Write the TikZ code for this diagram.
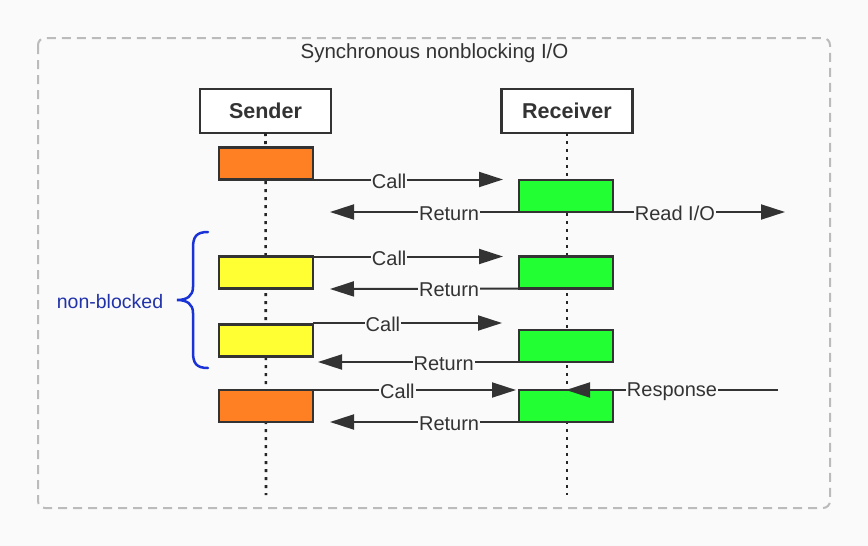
\documentclass[tikz,border=0pt]{standalone}
\usepackage{fontspec}
\setmainfont{Liberation Sans}
\usetikzlibrary{arrows.meta}
\definecolor{bgc}{HTML}{FAFAFA}
\definecolor{framec}{HTML}{BBBBBB}
\definecolor{ink}{HTML}{333333}
\definecolor{orangec}{HTML}{FF8022}
\definecolor{yellowc}{HTML}{FFFF33}
\definecolor{greenc}{HTML}{22FF33}
\definecolor{bracec}{HTML}{1A33D6}
\definecolor{bracetext}{HTML}{2233AA}
\tikzset{
  head/.style={draw=ink, line width=2.5pt, fill=white, minimum width=131pt, minimum height=44pt, inner sep=0pt, outer sep=0pt, font=\fontsize{21.5}{24}\selectfont\bfseries, text=ink},
  actbox/.style={draw=ink, line width=2.5pt, minimum width=94pt, minimum height=32pt, inner sep=0pt, outer sep=0pt},
  lifeline/.style={draw=black!85, line width=2.6pt, dash pattern=on 3pt off 5pt},
  msg/.style={draw=ink, line width=2pt, -{Triangle[length=24pt,width=15pt]}},
  lbl/.style={fill=bgc, inner sep=1pt, text=ink, font=\fontsize{20}{24}\selectfont, yshift=-1.5pt},
}
\begin{document}
\begin{tikzpicture}[x=1pt,y=-1pt]
\useasboundingbox (0,0) rectangle (868,546);
\fill[bgc] (0,0) rectangle (868,546);
% frame
\draw[framec, line width=2pt, dash pattern=on 9pt off 6pt, rounded corners=7pt] (38,38) rectangle (830,508);
\node[text=ink, font=\fontsize{20.5}{24}\selectfont] (title) at (434.5,53.5) {Synchronous nonblocking I/O};
% heads
\node[head] (sender) at (265.5,111) {\raisebox{-1.5pt}{Sender}};
\node[head] (receiver) at (567,111) {\raisebox{-1.5pt}{Receiver}};
\coordinate (send) at (266,495);
\coordinate (rend) at (567,495);
\draw[lifeline] (sender.south) -- (send);
\draw[lifeline] (receiver.south) -- (rend);
% activation boxes
\node[actbox, fill=orangec] (s1) at (266,163.5) {};
\node[actbox, fill=greenc] (r1) at (566,196) {};
\node[actbox, fill=yellowc] (s2) at (266,272.5) {};
\node[actbox, fill=greenc] (r2) at (566,272.5) {};
\node[actbox, fill=yellowc] (s3) at (266,340.5) {};
\node[actbox, fill=greenc] (r3) at (566,346) {};
\node[actbox, fill=orangec] (s4) at (266,406) {};
\node[actbox, fill=greenc] (r4) at (566,406) {};
% free ends
\coordinate (ret1) at (330,212);
\coordinate (io) at (785,212);
\coordinate (ret2) at (330,289);
\coordinate (ret3) at (318,362);
\coordinate (ret4) at (330,422);
\coordinate (resp) at (778,390);
\coordinate (call3) at (502,323);
\coordinate (call3s) at (313,323);
% messages
\draw[msg, shorten >=16pt] (s1.south east) -- (s1.south east -| r1.west) node[lbl, pos=0.37] {Call};
\draw[msg] (r1.south west) -- (ret1) node[lbl, pos=0.37] {Return};
\draw[msg] (r1.south east) -- (io) node[lbl, pos=0.36] {Read I/O};
\draw[msg, shorten >=16pt] (s2.north east) -- (r2.north west) node[lbl, pos=0.37] {Call};
\draw[msg] (r2.south west) -- (ret2) node[lbl, pos=0.37] {Return};
\draw[msg] (call3s) -- (call3) node[lbl, pos=0.37] {Call};
\draw[msg] (r3.south west) -- (ret3) node[lbl, pos=0.375] {Return};
\draw[msg, shorten >=3pt] (s4.north east) -- (r4.north west) node[lbl, pos=0.41] {Call};
\draw[msg] (r4.south west) -- (ret4) node[lbl, pos=0.37] {Return};
\draw[msg] (resp) -- (r4.north) node[lbl, pos=0.5] {Response};
% brace
\draw[bracec, line width=2.5pt, line cap=round]
  (208,232) .. controls (196,232) and (193,237) .. (193,248) -- (193,287)
  .. controls (193,296) and (187,300) .. (177,300)
  .. controls (187,300) and (193,304) .. (193,313) -- (193,352)
  .. controls (193,363) and (196,368) .. (208,368);
\node[text=bracetext, font=\fontsize{19.5}{22}\selectfont] (nb) at (110,302) {non{-}blocked};
\end{tikzpicture}
\end{document}
